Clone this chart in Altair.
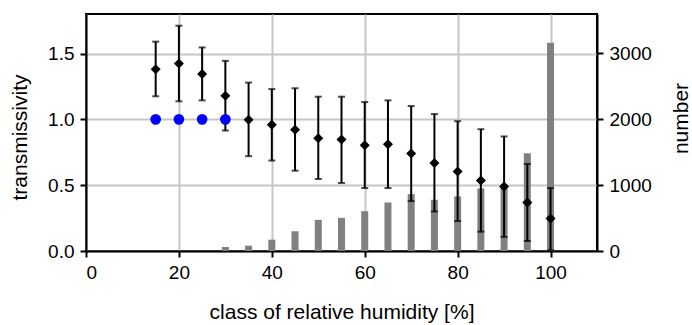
import altair as alt
import pandas as pd

# Relative humidity classes (%)
rh_classes = [15, 20, 25, 30, 35, 40, 45, 50, 55, 60, 65, 70, 75, 80, 85, 90, 95, 100]
# Mean transmissivity per class and error-bar limits
trans_mean = [1.38, 1.424, 1.345, 1.18, 0.997, 0.959, 0.921, 0.857, 0.847, 0.803,
              0.811, 0.74, 0.669, 0.603, 0.536, 0.49, 0.368, 0.246]
trans_upper = [1.59, 1.711, 1.546, 1.444, 1.279, 1.23, 1.236, 1.172, 1.172, 1.131,
               1.144, 1.101, 1.04, 0.986, 0.925, 0.87, 0.661, 0.478]
trans_lower = [1.175, 1.137, 1.144, 0.915, 0.72, 0.687, 0.61, 0.547, 0.516, 0.478,
               0.478, 0.379, 0.3, 0.227, 0.147, 0.107, 0.076, 0.005]

# Reference classes with transmissivity fixed at 1
ref_classes = [15, 20, 25, 30]
ref_values = [1.0, 1.0, 1.0, 1.0]

# Number of cases per humidity class
count_classes = [30, 35, 40, 45, 50, 55, 60, 65, 70, 75, 80, 85, 90, 95, 100]
counts = [61, 81, 172, 300, 473, 503, 605, 737, 864, 778, 829, 951, 970, 1484, 3162]

trans_df = pd.DataFrame({"rh": rh_classes, "mean": trans_mean,
                         "lo": trans_lower, "hi": trans_upper})
ref_df = pd.DataFrame({"rh": ref_classes, "val": ref_values})
count_df = pd.DataFrame({"rh": count_classes, "n": counts})

FONT = "Liberation Sans"
GRID = "#c6c6c6"

x_scale = alt.Scale(domain=[0, 110], nice=False, zero=False, padding=0)
x_axis = alt.Axis(values=[0, 20, 40, 60, 80, 100], title="class of relative humidity [%]",
                  grid=True, gridColor=GRID, gridWidth=2,
                  titleBaseline="alphabetic", titleY=67)
y_scale = alt.Scale(domain=[0, 1.8], nice=False, padding=0)
y_axis = alt.Axis(values=[0, 0.5, 1.0, 1.5], format=".1f", title="transmissivity",
                  grid=True, gridColor=GRID, gridWidth=2,
                  titleAngle=270, titleBaseline="alphabetic", titleX=-60, titleY=123)

bars = alt.Chart(count_df).mark_bar(size=7, color="#808080").encode(
    x=alt.X("rh:Q", scale=x_scale, axis=x_axis),
    y=alt.Y("n:Q", scale=alt.Scale(domain=[0, 3600], nice=False, padding=0),
            axis=alt.Axis(orient="right", values=[0, 1000, 2000, 3000], format="d",
                          title="number", grid=False, titleAngle=270,
                          titleBaseline="alphabetic", titleX=90, titleY=104)),
)

rules = alt.Chart(trans_df).mark_rule(color="black", strokeWidth=2).encode(
    x=alt.X("rh:Q", scale=x_scale),
    y=alt.Y("lo:Q", scale=y_scale, axis=y_axis),
    y2="hi:Q",
)
caps_hi = alt.Chart(trans_df).mark_tick(color="black", orient="horizontal",
                                        size=7, thickness=2).encode(
    x=alt.X("rh:Q", scale=x_scale),
    y=alt.Y("hi:Q", scale=y_scale),
)
caps_lo = alt.Chart(trans_df).mark_tick(color="black", orient="horizontal",
                                        size=7, thickness=2).encode(
    x=alt.X("rh:Q", scale=x_scale),
    y=alt.Y("lo:Q", scale=y_scale),
)
diamonds = alt.Chart(trans_df).mark_point(shape="diamond", filled=True, size=100,
                                          color="black", opacity=1).encode(
    x=alt.X("rh:Q", scale=x_scale),
    y=alt.Y("mean:Q", scale=y_scale),
)
ref_dots = alt.Chart(ref_df).mark_circle(size=115, color="#0000ff", opacity=1).encode(
    x=alt.X("rh:Q", scale=x_scale),
    y=alt.Y("val:Q", scale=y_scale),
)

left = alt.layer(rules, caps_hi, caps_lo, diamonds, ref_dots)

chart = alt.layer(bars, left).resolve_scale(y="independent").properties(
    width=511, height=237,
    autosize=alt.AutoSizeParams(type="none"),
    padding={"left": 86, "top": 14, "right": 95, "bottom": 74},
    background="white",
).configure_view(
    stroke="black", strokeWidth=2,
).configure_axis(
    domainColor="black", domainWidth=2, tickColor="black", tickWidth=2, tickSize=6,
    labelFont=FONT, labelFontSize=19, labelColor="black", labelPadding=6,
    titleFont=FONT, titleFontSize=21, titleColor="black", titleFontWeight="normal",
)

chart.save("out.html", embed_options={"renderer": "svg", "actions": False})
